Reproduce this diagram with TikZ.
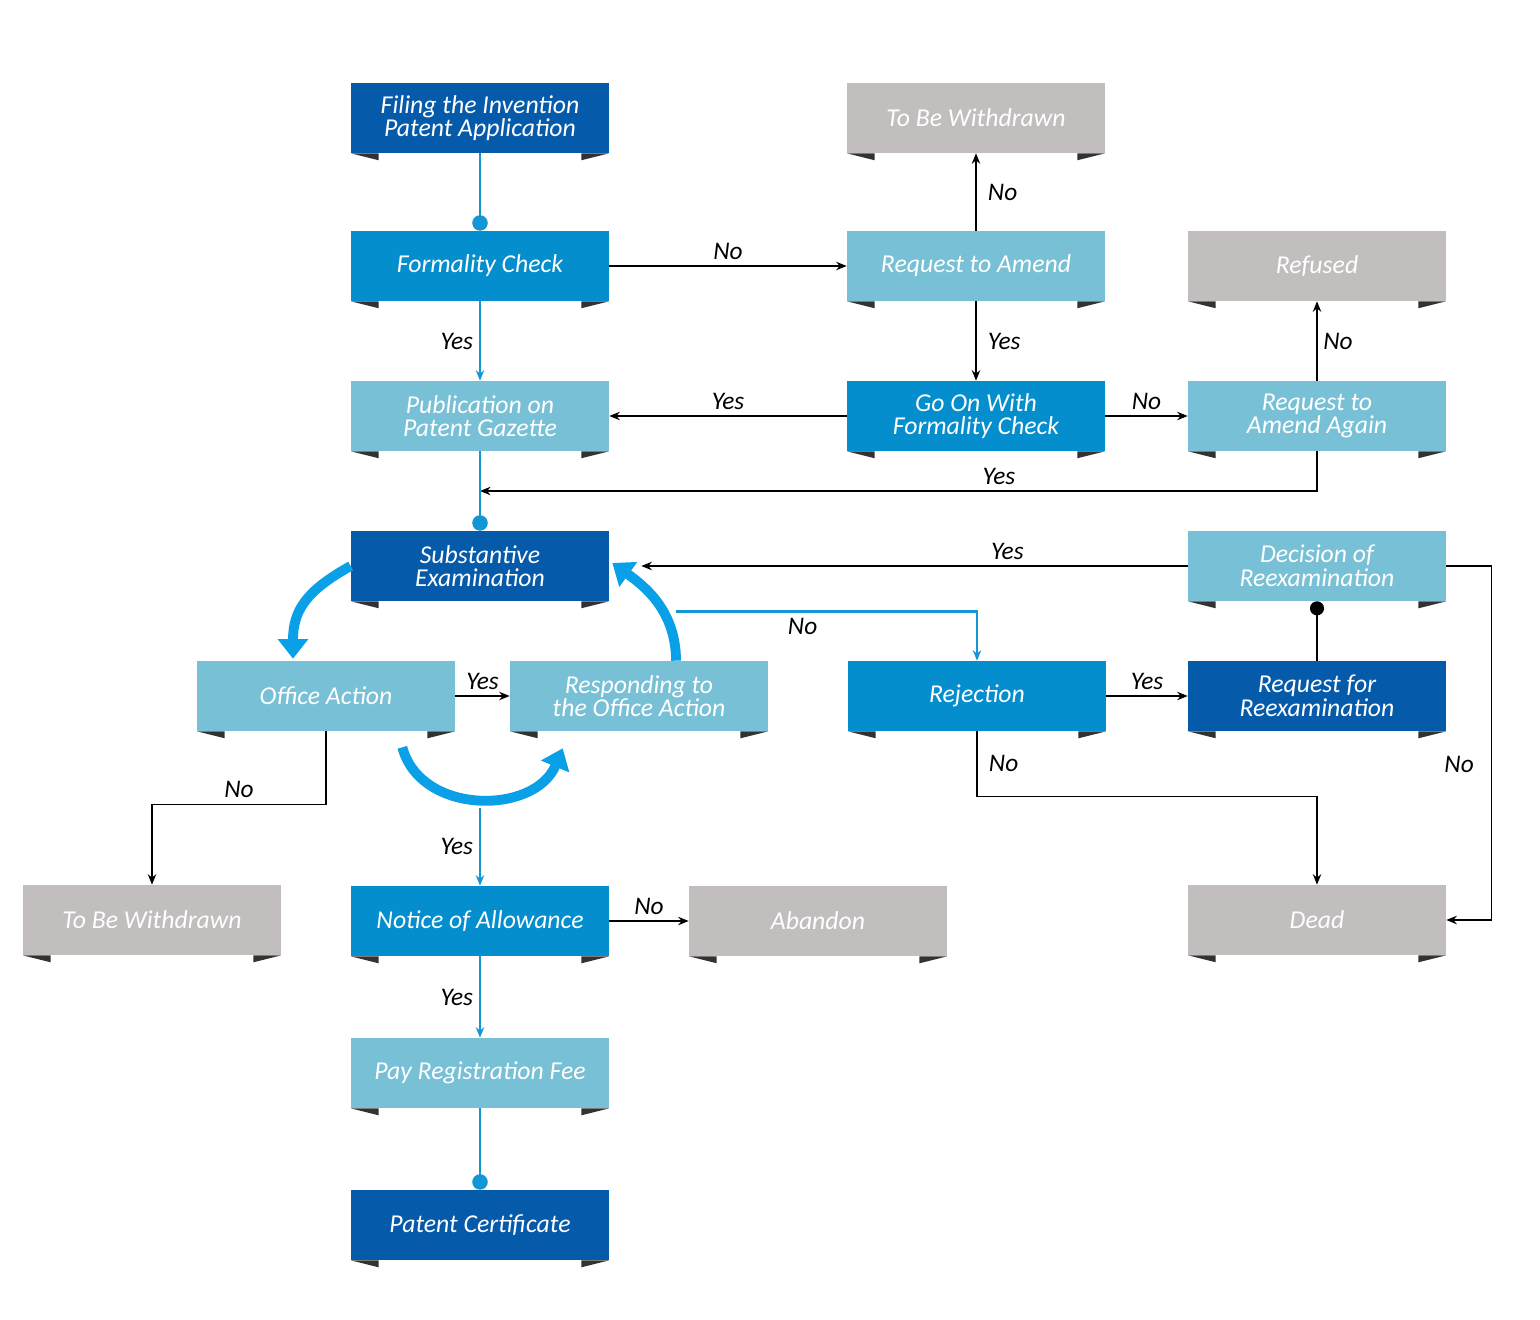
\documentclass[tikz,border=0pt]{standalone}
\usepackage{fontspec}
\setmainfont{Carlito}
\usetikzlibrary{arrows.meta,calc}
\definecolor{darkblue}{RGB}{5,91,170}
\definecolor{midblue}{RGB}{4,142,206}
\definecolor{lightblue}{RGB}{120,192,214}
\definecolor{boxgray}{RGB}{194,190,190}
\definecolor{tabdark}{RGB}{50,50,50}
\definecolor{flowblue}{RGB}{20,150,212}
\definecolor{cycleblue}{RGB}{10,160,232}
\tikzset{
  box/.style={rectangle,minimum width=6.45cm,minimum height=1.75cm,inner sep=0pt,
    text=white,align=center,font=\itshape\fontsize{18.3}{16.8}\selectfont},
  lab/.style={font=\itshape\fontsize{18}{17}\selectfont,text=black,inner sep=4pt},
  arr/.style={line width=1pt,black,-{Stealth[length=7.5pt,width=6pt]}},
  flow/.style={line width=1.9pt,flowblue},
  flowarr/.style={flow,-{Stealth[length=7.5pt,width=6pt]}},
  flowdot/.style={flow,-{Circle[length=11pt]}},
  blackdot/.style={line width=1pt,black,-{Circle[length=10pt]}},
  roundarr/.style={line width=7pt,cycleblue,-{Triangle[width=21pt,length=14pt]}}
}
\begin{document}
\begin{tikzpicture}[x=0.025cm,y=-0.025cm]
  \useasboundingbox (0,0) rectangle (1540,1320);
  \node[box,fill=darkblue] (filing) at (480,118) {Filing the Invention\\Patent Application};
  \node[box,fill=midblue] (formality) at (480,266) {Formality Check};
  \node[box,fill=lightblue] (pub) at (480,416) {Publication on\\Patent Gazette};
  \node[box,fill=darkblue] (sub) at (480,566) {Substantive\\Examination};
  \node[box,fill=lightblue] (office) at (326,696) {Office Action};
  \node[box,fill=lightblue] (respond) at (639,696) {Responding to\\the Office Action};
  \node[box,fill=boxgray] (wdleft) at (152,920) {To Be Withdrawn};
  \node[box,fill=midblue] (notice) at (480,921) {Notice of Allowance};
  \node[box,fill=boxgray] (abandon) at (818,921) {Abandon};
  \node[box,fill=lightblue] (pay) at (480,1073) {Pay Registration Fee};
  \node[box,fill=darkblue] (cert) at (480,1225) {Patent Certificate};
  \node[box,fill=boxgray] (wdtop) at (976,118) {To Be Withdrawn};
  \node[box,fill=lightblue] (amend) at (976,266) {Request to Amend};
  \node[box,fill=midblue] (goon) at (976,416) {Go On With\\Formality Check};
  \node[box,fill=boxgray] (refused) at (1317,266) {Refused};
  \node[box,fill=lightblue] (again) at (1317,416) {Request to\\Amend Again};
  \node[box,fill=lightblue] (decision) at (1317,566) {Decision of\\Reexamination};
  \node[box,fill=midblue] (rejection) at (977,696) {Rejection};
  \node[box,fill=darkblue] (reexam) at (1317,696) {Request for\\Reexamination};
  \node[box,fill=boxgray] (dead) at (1317,920) {Dead};
  \foreach \n in {filing,formality,pub,sub,office,respond,wdleft,notice,abandon,pay,
    cert,wdtop,amend,goon,refused,again,decision,rejection,reexam,dead}{
    \fill[tabdark]
      (\n.south west)
      --
      ++(28,0)
      --
      ++(0,7)
      --
      cycle;
    \fill[tabdark]
      (\n.south east)
      --
      ++(-28,0)
      --
      ++(0,7)
      --
      cycle;
  }
  \coordinate (pubjoin) at ($(pub.south)!0.5!(sub.north)$);
  \coordinate (rstart) at ($(sub.south east)+(67,10)$);
  \coordinate (cyc) at ($(notice.north)+(0,-78)$);
  \draw[flowdot]
    (filing.south)
    --
    (formality.north);
  \draw[arr]
    (formality.east)
    --
    node[lab,above] (lno1) {No}
    (amend.west);
  \draw[flowarr]
    (formality.south)
    --
    node[lab,left] (lyes1) {Yes}
    (pub.north);
  \draw[arr]
    (amend.north)
    --
    node[lab,right,xshift=4pt] (lno2) {No}
    (wdtop.south);
  \draw[arr]
    (amend.south)
    --
    node[lab,right,xshift=4pt] (lyes2) {Yes}
    (goon.north);
  \draw[arr]
    (goon.west)
    --
    node[lab,above] (lyes3) {Yes}
    (pub.east);
  \draw[arr]
    (goon.east)
    --
    node[lab,above] (lno3) {No}
    (again.west);
  \draw[arr]
    (again.north)
    --
    node[lab,right] (lno4) {No}
    (refused.south);
  \draw[arr]
    (again.south)
    |-
    node[lab,above,pos=0.69] (lyes4) {Yes}
    (pubjoin);
  \draw[flowdot]
    (pub.south)
    --
    (sub.north);
  \draw[arr]
    (decision.west)
    --
    node[lab,above,pos=0.33] (lyes5) {Yes}
    ($(sub.east)+(32,0)$);
  \draw[flowarr]
    (rstart)
    -|
    node[lab,below,pos=0.21] (lno5) {No}
    (rejection.north);
  \draw[roundarr]
    (sub.west)
    .. controls ($(sub.west)+(-45,25)$) and ($(office.north)+(-33,-50)$) ..
    ($(office.north)+(-33,-2)$);
  \draw[roundarr]
    ($(respond.north)+(37,0)$)
    .. controls ($(respond.north)+(37,-50)$) and ($(sub.east)+(35,20)$) ..
    ($(sub.east)+(3,-3)$);
  \draw[roundarr]
    ($(office.south east)+(-53,16)$)
    .. controls ($(office.south east)+(-35,84)$) and ($(respond.south west)+(25,84)$) ..
    ($(respond.south west)+(53,17)$);
  \draw[arr]
    (office.east)
    --
    node[lab,above] (lyes6) {Yes}
    (respond.west);
  \draw[arr]
    (office.south)
    --
    ++(0,73)
    -|
    node[lab,above,pos=0.25] (lno6) {No}
    (wdleft.north);
  \draw[flowarr]
    (cyc)
    --
    node[lab,left] (lyes7) {Yes}
    (notice.north);
  \draw[arr]
    (notice.east)
    --
    node[lab,above] (lno7) {No}
    (abandon.west);
  \draw[flowarr]
    (notice.south)
    --
    node[lab,left] (lyes8) {Yes}
    (pay.north);
  \draw[flowdot]
    (pay.south)
    --
    (cert.north);
  \draw[arr]
    (rejection.east)
    --
    node[lab,above] (lyes9) {Yes}
    (reexam.west);
  \draw[arr]
    (rejection.south)
    --
    node[lab,right,xshift=4pt] (lno8) {No}
    ++(0,65)
    -|
    (dead.north);
  \draw[blackdot]
    (reexam.north)
    --
    (decision.south);
  \draw[arr]
    (decision.east)
    --
    ++(45,0)
    |-
    node[lab,left,pos=0.28,xshift=-8pt] (lno9) {No}
    (dead.east);
\end{tikzpicture}
\end{document}
